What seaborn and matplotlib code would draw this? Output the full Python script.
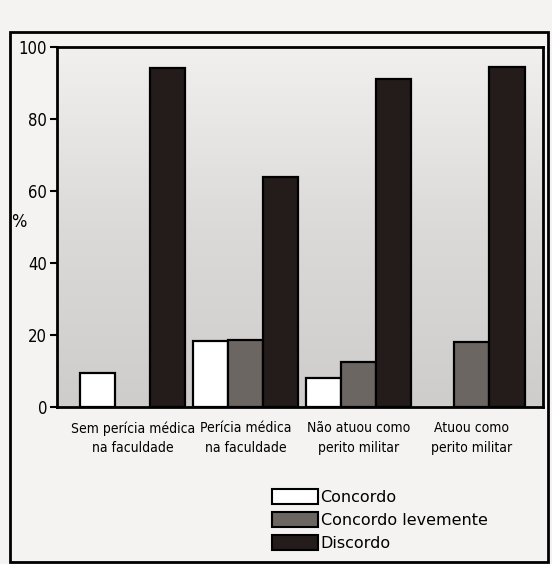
"""
Concordância por grupo – barras agrupadas (recriação).
"""

import numpy as np
import pandas as pd
import matplotlib
matplotlib.use("Agg")
import matplotlib.pyplot as plt
import matplotlib.patches as mpatches
import matplotlib.colors as mcolors
import seaborn as sns

# ── Data ──────────────────────────────────────────────────────────────────────
GROUPS = [
    "Sem perícia médica\nna faculdade",
    "Perícia médica\nna faculdade",
    "Não atuou como\nperito militar",
    "Atuou como\nperito militar",
]
RESPONSES = ["Concordo", "Concordo levemente", "Discordo"]
CONCORDO = [9.5, 18.5, 8.0, np.nan]
CONCORDO_LEVE = [np.nan, 18.7, 12.5, 18.0]
DISCORDO = [94.0, 64.0, 91.0, 94.5]
Y_TICKS = [0, 20, 40, 60, 80, 100]

COLORS = {
    "Concordo": "#ffffff",
    "Concordo levemente": "#6c6663",
    "Discordo": "#241c1a",
}
FONT = ["DejaVu Sans"]


def build_frame() -> pd.DataFrame:
    rows = []
    for resp, vals in zip(RESPONSES, [CONCORDO, CONCORDO_LEVE, DISCORDO]):
        for g, v in zip(GROUPS, vals):
            rows.append({"grupo": g, "resposta": resp, "pct": v})
    return pd.DataFrame(rows)


def main():
    df = build_frame()

    sns.set_theme(style="white")
    plt.rcParams["font.family"] = FONT
    plt.rcParams["font.stretch"] = "condensed"
    for key in ["text.color", "axes.labelcolor", "xtick.color", "ytick.color"]:
        plt.rcParams[key] = "black"

    fig = plt.figure(figsize=(5.52, 5.64), dpi=100)
    fig.patch.set_facecolor("#f4f3f1")
    ax = fig.add_axes([0.103, 0.278, 0.881, 0.639])

    # printed/photographed shading of the plot area
    shade = mcolors.LinearSegmentedColormap.from_list(
        "shade", ["#cfcdcb", "#dcdad8", "#f1f0ee"])
    ax.imshow(np.linspace(0, 1, 100).reshape(-1, 1), cmap=shade,
              aspect="auto", origin="lower", extent=[0, 1, 0, 1],
              transform=ax.transAxes, zorder=0)

    sns.barplot(data=df, x="grupo", y="pct", hue="resposta",
                hue_order=RESPONSES, palette=COLORS, width=0.93,
                edgecolor="black", linewidth=1.6, saturation=1,
                legend=False, ax=ax, zorder=2)

    ax.set_ylim(0, 100)
    ax.set_xlim(-0.67, 3.63)
    ax.set_yticks(Y_TICKS)
    ax.set_yticklabels([str(t) for t in Y_TICKS], fontsize=12)
    ax.tick_params(axis="y", direction="out", length=5, width=1.5,
                   left=True, pad=2)
    ax.tick_params(axis="x", length=0, pad=10)
    for lab in ax.get_xticklabels():
        lab.set_fontsize(10)
        lab.set_linespacing(1.5)
    ax.set_xlabel("")
    ax.set_ylabel("%", rotation=0, fontsize=13)
    ax.yaxis.set_label_coords(-0.078, 0.49)

    for side in ["left", "bottom", "top", "right"]:
        ax.spines[side].set_visible(True)
        ax.spines[side].set_color("black")
        ax.spines[side].set_linewidth(2)
        ax.spines[side].set_zorder(3)

    handles = [mpatches.Patch(facecolor=COLORS[r], edgecolor="black",
                              linewidth=1.5, label=r) for r in RESPONSES]
    fig.legend(handles=handles, loc="upper left",
               bbox_to_anchor=(0.478, 0.148), frameon=False,
               prop={"size": 11.5, "stretch": "normal"},
               handlelength=2.9, handleheight=1.1,
               handletextpad=0.15, labelspacing=0.45, borderpad=0)

    # outer printed frame
    fig.patches.append(mpatches.Rectangle(
        (0.018, 0.004), 0.975, 0.94, transform=fig.transFigure,
        fill=False, edgecolor="black", linewidth=2))

    fig.savefig("out.png", dpi=100)


if __name__ == "__main__":
    main()
